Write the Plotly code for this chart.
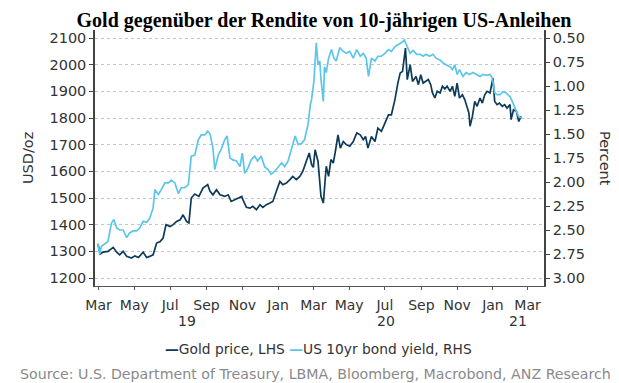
import plotly.graph_objects as go
import pandas as pd

# ---------------- data ----------------
gold_dates = [
    "2019-02-28", "2019-03-04", "2019-03-09", "2019-03-17", "2019-03-26", "2019-04-01", "2019-04-06",
    "2019-04-12", "2019-04-18", "2019-04-26", "2019-05-02", "2019-05-08", "2019-05-16", "2019-05-22",
    "2019-05-27", "2019-06-02", "2019-06-08", "2019-06-14", "2019-06-19", "2019-06-24", "2019-07-01",
    "2019-07-06", "2019-07-12", "2019-07-18", "2019-07-23", "2019-07-29", "2019-08-02", "2019-08-06",
    "2019-08-12", "2019-08-19", "2019-08-26", "2019-09-03", "2019-09-07", "2019-09-12", "2019-09-18",
    "2019-09-24", "2019-10-02", "2019-10-08", "2019-10-13", "2019-10-19", "2019-10-25", "2019-10-31",
    "2019-11-02", "2019-11-08", "2019-11-14", "2019-11-19", "2019-11-25", "2019-12-01", "2019-12-06",
    "2019-12-12", "2019-12-18", "2019-12-23", "2019-12-29", "2020-01-04", "2020-01-09", "2020-01-15",
    "2020-01-21", "2020-01-26", "2020-02-01", "2020-02-07", "2020-02-12", "2020-02-18", "2020-02-23",
    "2020-02-27", "2020-03-01", "2020-03-04", "2020-03-09", "2020-03-14", "2020-03-18", "2020-03-23",
    "2020-03-27", "2020-03-31", "2020-04-04", "2020-04-08", "2020-04-12", "2020-04-16", "2020-04-21",
    "2020-04-26", "2020-05-02", "2020-05-08", "2020-05-14", "2020-05-20", "2020-05-25", "2020-05-29",
    "2020-06-02", "2020-06-08", "2020-06-14", "2020-06-19", "2020-06-25", "2020-07-01", "2020-07-07",
    "2020-07-12", "2020-07-18", "2020-07-23", "2020-07-27", "2020-07-31", "2020-08-05", "2020-08-08",
    "2020-08-13", "2020-08-17", "2020-08-23", "2020-08-27", "2020-08-31", "2020-09-04", "2020-09-09",
    "2020-09-13", "2020-09-17", "2020-09-20", "2020-09-24", "2020-09-28", "2020-10-03", "2020-10-07",
    "2020-10-11", "2020-10-15", "2020-10-20", "2020-10-24", "2020-10-28", "2020-11-01", "2020-11-05",
    "2020-11-10", "2020-11-14", "2020-11-18", "2020-11-21", "2020-11-23", "2020-11-27", "2020-12-01",
    "2020-12-05", "2020-12-10", "2020-12-14", "2020-12-18", "2020-12-22", "2020-12-27", "2021-01-01",
    "2021-01-04", "2021-01-08", "2021-01-12", "2021-01-17", "2021-01-21", "2021-01-25", "2021-01-30",
    "2021-02-01", "2021-02-05", "2021-02-10", "2021-02-14", "2021-02-18",
]
gold_usd = [
    1327, 1290, 1297, 1300, 1315, 1297, 1287,
    1300, 1281, 1275, 1283, 1277, 1297, 1277,
    1281, 1287, 1331, 1337, 1350, 1400, 1393,
    1400, 1412, 1418, 1437, 1412, 1406, 1500,
    1515, 1506, 1537, 1550, 1525, 1512, 1531,
    1512, 1506, 1512, 1487, 1494, 1502, 1506,
    1494, 1465, 1462, 1469, 1456, 1475, 1465,
    1475, 1481, 1487, 1525, 1562, 1550, 1556,
    1569, 1581, 1569, 1581, 1600, 1637, 1669,
    1625, 1615, 1681, 1637, 1506, 1481, 1619,
    1581, 1644, 1631, 1681, 1737, 1687, 1712,
    1700, 1694, 1712, 1744, 1737, 1719, 1731,
    1687, 1731, 1712, 1762, 1750, 1781, 1812,
    1812, 1869, 1931, 1969, 1975, 2062, 1944,
    2000, 1937, 1956, 1925, 1962, 1931, 1937,
    1944, 1925, 1894, 1875, 1900, 1894, 1919,
    1909, 1919, 1900, 1919, 1881, 1931, 1875,
    1887, 1869, 1844, 1819, 1769, 1806, 1862,
    1844, 1875, 1856, 1887, 1900, 1894, 1950,
    1862, 1850, 1856, 1844, 1850, 1837, 1850,
    1794, 1831, 1825, 1787, 1806,
]

yield_dates = [
    "2019-02-28", "2019-03-03", "2019-03-06", "2019-03-12", "2019-03-17", "2019-03-23", "2019-03-27",
    "2019-04-01", "2019-04-06", "2019-04-12", "2019-04-18", "2019-04-23", "2019-04-29", "2019-05-05",
    "2019-05-10", "2019-05-16", "2019-05-22", "2019-05-27", "2019-06-02", "2019-06-05", "2019-06-11",
    "2019-06-16", "2019-06-22", "2019-06-28", "2019-07-03", "2019-07-09", "2019-07-15", "2019-07-20",
    "2019-07-26", "2019-08-01", "2019-08-06", "2019-08-12", "2019-08-18", "2019-08-23", "2019-08-29",
    "2019-09-03", "2019-09-07", "2019-09-12", "2019-09-15", "2019-09-21", "2019-09-26", "2019-10-02",
    "2019-10-06", "2019-10-11", "2019-10-16", "2019-10-22", "2019-10-28", "2019-11-01", "2019-11-05",
    "2019-11-11", "2019-11-16", "2019-11-22", "2019-11-27", "2019-12-03", "2019-12-09", "2019-12-15",
    "2019-12-20", "2019-12-26", "2020-01-01", "2020-01-07", "2020-01-12", "2020-01-18", "2020-01-24",
    "2020-01-30", "2020-02-04", "2020-02-10", "2020-02-15", "2020-02-21", "2020-02-25", "2020-02-27",
    "2020-03-02", "2020-03-06", "2020-03-09", "2020-03-12", "2020-03-14", "2020-03-18", "2020-03-20",
    "2020-03-23", "2020-03-27", "2020-04-01", "2020-04-05", "2020-04-09", "2020-04-15", "2020-04-21",
    "2020-04-26", "2020-05-02", "2020-05-08", "2020-05-14", "2020-05-20", "2020-05-25", "2020-05-30",
    "2020-06-03", "2020-06-08", "2020-06-14", "2020-06-19", "2020-06-25", "2020-07-01", "2020-07-07",
    "2020-07-12", "2020-07-18", "2020-07-23", "2020-07-29", "2020-08-03", "2020-08-07", "2020-08-13",
    "2020-08-18", "2020-08-24", "2020-08-30", "2020-09-04", "2020-09-09", "2020-09-15", "2020-09-21",
    "2020-09-26", "2020-10-03", "2020-10-08", "2020-10-14", "2020-10-20", "2020-10-24", "2020-10-28",
    "2020-11-01", "2020-11-05", "2020-11-11", "2020-11-16", "2020-11-22", "2020-11-28", "2020-12-04",
    "2020-12-10", "2020-12-15", "2020-12-21", "2020-12-27", "2020-12-31", "2021-01-04", "2021-01-08",
    "2021-01-13", "2021-01-18", "2021-01-23", "2021-01-30", "2021-02-03", "2021-02-07", "2021-02-11",
    "2021-02-14", "2021-02-18",
]
yield_pct = [
    2.64, 2.75, 2.67, 2.64, 2.62, 2.43, 2.39,
    2.48, 2.50, 2.50, 2.58, 2.53, 2.51, 2.51,
    2.48, 2.41, 2.42, 2.38, 2.27, 2.08, 2.13,
    2.08, 2.01, 2.01, 1.98, 2.01, 2.12, 2.06,
    2.06, 2.03, 1.73, 1.72, 1.56, 1.51, 1.51,
    1.47, 1.50, 1.65, 1.87, 1.72, 1.66, 1.56,
    1.52, 1.75, 1.77, 1.78, 1.84, 1.70, 1.91,
    1.85, 1.77, 1.73, 1.78, 1.73, 1.84, 1.87,
    1.92, 1.89, 1.84, 1.80, 1.84, 1.78, 1.65,
    1.52, 1.61, 1.60, 1.56, 1.40, 1.19, 1.14,
    0.95, 0.55, 0.78, 0.74, 0.93, 1.16, 0.80,
    0.86, 0.71, 0.62, 0.71, 0.74, 0.60, 0.64,
    0.66, 0.64, 0.71, 0.62, 0.69, 0.66, 0.71,
    0.90, 0.71, 0.74, 0.69, 0.69, 0.66, 0.62,
    0.64, 0.59, 0.57, 0.55, 0.52, 0.57, 0.66,
    0.63, 0.67, 0.67, 0.69, 0.67, 0.69, 0.67,
    0.71, 0.73, 0.76, 0.78, 0.80, 0.83, 0.78,
    0.88, 0.83, 0.90, 0.86, 0.88, 0.86, 0.88,
    0.90, 0.88, 0.89, 0.88, 0.92, 1.07, 1.09,
    1.09, 1.06, 1.07, 1.11, 1.16, 1.23, 1.28,
    1.32, 1.33,
]

month_ticks = ["2019-03-01", "2019-05-01", "2019-07-01", "2019-09-01", "2019-11-01",
               "2020-01-01", "2020-03-01", "2020-05-01", "2020-07-01", "2020-09-01",
               "2020-11-01", "2021-01-01", "2021-03-01"]
month_labels = ["Mar", "May", "Jul", "Sep", "Nov", "Jan", "Mar", "May", "Jul", "Sep", "Nov", "Jan", "Mar"]
year_starts = ["2020-01-01", "2021-01-01"]
years = [2019, 2020, 2021]
x_range = ["2019-02-23", "2021-03-29"]
left_ticks = [1200, 1300, 1400, 1500, 1600, 1700, 1800, 1900, 2000, 2100]
left_range = [1170, 2130]
right_ticks = [0.50, 0.75, 1.00, 1.25, 1.50, 1.75, 2.00, 2.25, 2.50, 2.75, 3.00]
right_range = [3.0833, 0.4167]

# ---------------- style ----------------
DARK = "#0d3a5a"
LIGHT = "#5bc6ea"
TXT = "#333333"
FONT = "DejaVu Sans"

fig = go.Figure()
fig.add_trace(go.Scatter(x=gold_dates, y=gold_usd, name="Gold price, LHS", mode="lines",
                         line=dict(color=DARK, width=1.7), yaxis="y", showlegend=False))
fig.add_trace(go.Scatter(x=yield_dates, y=yield_pct, name="US 10yr bond yield, RHS", mode="lines",
                         line=dict(color=LIGHT, width=1.7), yaxis="y2", showlegend=False))

annotations = []
# year labels centred on the visible part of each year
r0, r1 = pd.Timestamp(x_range[0]), pd.Timestamp(x_range[1])
for yr in years:
    s = max(r0, pd.Timestamp(f"{yr}-01-01"))
    e = min(r1, pd.Timestamp(f"{yr + 1}-01-01"))
    c = s + (e - s) / 2
    annotations.append(dict(x=c.strftime("%Y-%m-%d"), xref="x", y=-0.137, yref="paper",
                            text=f"{yr % 100:02d}", showarrow=False,
                            font=dict(family=FONT, size=14, color=TXT),
                            xanchor="center", yanchor="middle"))

annotations += [
    dict(x=-0.149, y=0.5, xref="paper", yref="paper", text="USD/oz", textangle=-90, showarrow=False,
         font=dict(family=FONT, size=14.5, color=TXT), xanchor="center", yanchor="middle"),
    dict(x=1.136, y=0.5, xref="paper", yref="paper", text="Percent", textangle=90, showarrow=False,
         font=dict(family=FONT, size=14.5, color=TXT), xanchor="center", yanchor="middle"),
    dict(x=0.4967, y=-0.246, xref="paper", yref="paper", showarrow=False,
         text=(f"<span style='color:{DARK}'><b>—</b></span>Gold price, LHS "
               f"<span style='color:{LIGHT}'><b>—</b></span>US 10yr bond yield, RHS"),
         font=dict(family=FONT, size=13.8, color=TXT), xanchor="center", yanchor="middle"),
    dict(x=0.492, y=-0.344, xref="paper", yref="paper", showarrow=False,
         text="Source: U.S. Department of Treasury, LBMA, Bloomberg, Macrobond, ANZ Research",
         font=dict(family=FONT, size=14.2, color="#8a8a8a"), xanchor="center", yanchor="middle"),
]

fig.update_layout(
    width=619, height=383,
    margin=dict(l=87, r=83, t=22, b=105),
    paper_bgcolor="white", plot_bgcolor="white",
    title=dict(text="<b>Gold gegenüber der Rendite von 10-jährigen US-Anleihen</b>",
               font=dict(family="Liberation Serif", size=20, color="black"),
               x=0.5105, xanchor="center", y=0.988, yref="container", yanchor="top"),
    xaxis=dict(type="date", range=x_range, tickmode="array", tickvals=month_ticks, ticktext=month_labels,
               ticks="outside", ticklen=3, tickcolor="#555555", showgrid=False, zeroline=False,
               showline=True, linecolor="#555555", linewidth=1,
               tickfont=dict(family=FONT, size=14, color=TXT), ticklabelstandoff=3),
    xaxis2=dict(type="date", range=x_range, overlaying="x", anchor="y", side="bottom",
                tickmode="array", tickvals=year_starts, ticks="outside", ticklen=6, tickcolor="#555555",
                showticklabels=False, showgrid=False, zeroline=False, showline=False),
    yaxis=dict(range=left_range, tickmode="array", tickvals=left_ticks, ticks="outside", ticklen=4,
               tickcolor="#444444", showline=True, linecolor="#444444", linewidth=1.5,
               showgrid=True, gridcolor="#b9c7d0", griddash="dot", gridwidth=1, zeroline=False,
               tickfont=dict(family=FONT, size=14.5, color=TXT)),
    yaxis2=dict(range=right_range, overlaying="y", side="right", anchor="x", tickmode="array",
                tickvals=right_ticks, ticktext=[f"{v:.2f}" for v in right_ticks],
                ticks="outside", ticklen=4, tickcolor="#444444", showline=True, linecolor="#444444",
                linewidth=1.5, showgrid=False, zeroline=False,
                tickfont=dict(family=FONT, size=14.5, color=TXT)),
    annotations=annotations,
    showlegend=False,
)

fig.write_html("out.html")
